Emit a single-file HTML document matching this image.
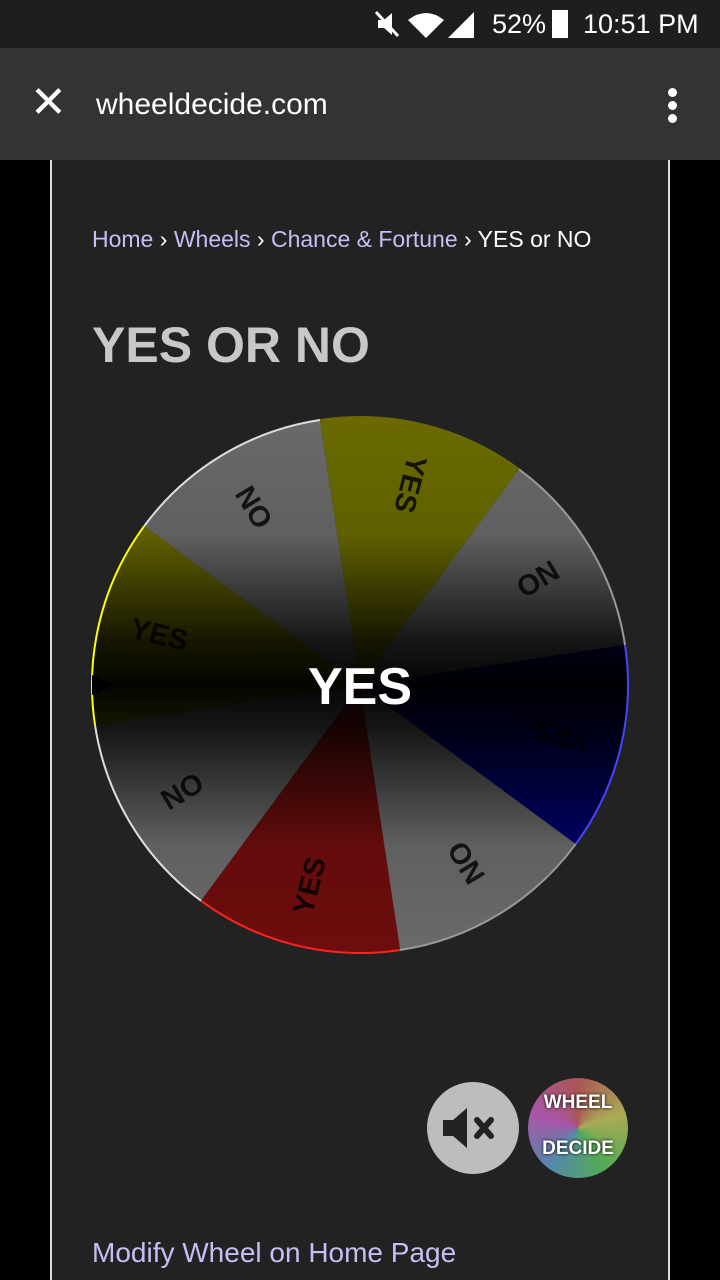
<!DOCTYPE html>
<html><head><meta charset="utf-8"><style>
html,body{margin:0;padding:0;width:720px;height:1280px;overflow:hidden;background:#000;font-family:"Liberation Sans",sans-serif}
#status{position:absolute;left:0;top:0;width:720px;height:48px;background:#1e1e1e;color:#fff;font-size:27px}
#toolbar{position:absolute;left:0;top:48px;width:720px;height:112px;background:#333;color:#fff}
#panel{position:absolute;left:50px;top:160px;width:616px;height:1120px;background:#222;border-left:2px solid #ddd;border-right:2px solid #ddd}
a,.lnk{color:#c9bdf5;text-decoration:none}
</style></head><body>
<div id="status">
  <svg style="position:absolute;left:374px;top:10px" width="104" height="30">
    <path d="M4,10 h6 l8,-7 v22 l-8,-7 h-6 z" fill="#fff"/><path d="M2,2 L24,26" stroke="#fff" stroke-width="3"/>
    <path d="M34,10 Q52,-4 70,10 L52,28 Z" fill="#fff"/>
    <polygon points="74,28 100,28 100,2" fill="#fff"/>
  </svg>
  <span style="position:absolute;left:492px;top:9px">52%</span>
  <div style="position:absolute;left:552px;top:10px;width:16px;height:28px;background:#fff"></div>
  <span style="position:absolute;left:583px;top:9px">10:51 PM</span>
</div>
<div id="toolbar">
  <span style="position:absolute;left:30px;top:30px;font-size:44px;line-height:50px">✕</span>
  <span style="position:absolute;left:96px;top:40px;font-size:30px">wheeldecide.com</span>
  <div style="position:absolute;left:668px;top:40px">
    <div style="width:9px;height:9px;border-radius:50%;background:#fff;margin-bottom:4px"></div>
    <div style="width:9px;height:9px;border-radius:50%;background:#fff;margin-bottom:4px"></div>
    <div style="width:9px;height:9px;border-radius:50%;background:#fff"></div>
  </div>
</div>
<div id="panel"></div>
<div style="position:absolute;left:92px;top:226px;font-size:23px;color:#fff">
  <span class="lnk">Home</span> › <span class="lnk">Wheels</span> › <span class="lnk">Chance &amp; Fortune</span> › YES or NO
</div>
<div style="position:absolute;left:92px;top:316px;font-size:50px;font-weight:bold;color:#c8c8c8">YES OR NO</div>

<svg id="wheel" style="position:absolute;left:0;top:0" width="720" height="1280">
  <defs>
    <clipPath id="cc"><circle cx="360" cy="685" r="268"/></clipPath>
    <linearGradient id="shade" x1="0" y1="417" x2="0" y2="953" gradientUnits="userSpaceOnUse">
      <stop offset="0" stop-color="#000" stop-opacity="0"/>
      <stop offset="0.22" stop-color="#000" stop-opacity="0.1"/>
      <stop offset="0.42" stop-color="#000" stop-opacity="0.8"/>
      <stop offset="0.5" stop-color="#000" stop-opacity="0.95"/>
      <stop offset="0.58" stop-color="#000" stop-opacity="0.8"/>
      <stop offset="0.8" stop-color="#000" stop-opacity="0.1"/>
      <stop offset="1" stop-color="#000" stop-opacity="0"/>
    </linearGradient>
  </defs>
  <g id="slices" clip-path="url(#cc)"></g>
  <rect x="90" y="415" width="540" height="540" fill="url(#shade)" clip-path="url(#cc)"/>
  <g id="rims"></g>
  <g id="labels"></g>
  <polygon points="92,675 116,685 92,695" fill="#000"/>
  <text x="360" y="704" text-anchor="middle" font-size="52" font-weight="bold" fill="#fff" font-family="Liberation Sans, sans-serif">YES</text>
</svg>

<div style="position:absolute;left:427px;top:1082px;width:92px;height:92px;border-radius:50%;background:#bdbdbd">
  <svg width="92" height="92"><polygon points="16,38 26,38 40,26 40,66 26,54 16,54" fill="#222"/><path d="M50,38 L64,54 M64,38 L50,54" stroke="#222" stroke-width="6" stroke-linecap="round"/></svg>
</div>
<div style="position:absolute;left:528px;top:1078px;width:100px;height:100px;border-radius:50%;background:conic-gradient(#a55,#aa5,#5a5,#58a,#a5a,#a55);font-weight:bold;color:#fff;font-size:19px;text-align:center;line-height:46px;text-shadow:0 0 3px #000"><div style="margin-top:2px">WHEEL</div><div>DECIDE</div></div>
<div style="position:absolute;left:92px;top:1237px;font-size:28px" class="lnk">Modify Wheel on Home Page</div>

<script>
const labels = ["YES","NO","YES","NO","YES","NO","YES","NO"];
const fills = ["#6a6a00","#6a6a6a","#00006a","#6a6a6a","#6e0d0d","#6a6a6a","#6a6a00","#6a6a6a"];
const rimColors = ["#6a6a00","#999","#4444ff","#999","#ff2222","#ddd","#ffff00","#ddd"];
const startAngle = 261.4;
const cx=360, cy=685, R=268, LR=207;
const ns="http://www.w3.org/2000/svg";
const step = 360/labels.length;
function pt(a,r){const t=a*Math.PI/180;return [cx+r*Math.cos(t), cy+r*Math.sin(t)];}
const gS=document.getElementById('slices'), gR=document.getElementById('rims'), gL=document.getElementById('labels');
labels.forEach((lab,i)=>{
  const a0=startAngle+i*step, a1=a0+step;
  const p0=pt(a0,R+4), p1=pt(a1,R+4);
  const p=document.createElementNS(ns,'path');
  p.setAttribute('d',`M${cx},${cy} L${p0[0]},${p0[1]} A${R+4},${R+4} 0 0 1 ${p1[0]},${p1[1]} Z`);
  p.setAttribute('fill',fills[i]);
  
  
  gS.appendChild(p);
  const q0=pt(a0,R), q1=pt(a1,R);
  const rim=document.createElementNS(ns,'path');
  rim.setAttribute('d',`M${q0[0]},${q0[1]} A${R},${R} 0 0 1 ${q1[0]},${q1[1]}`);
  rim.setAttribute('fill','none');rim.setAttribute('stroke',rimColors[i]);rim.setAttribute('stroke-width','2');
  
  
  gR.appendChild(rim);
  const mid=a0+step/2, lp=pt(mid,LR);
  const t=document.createElementNS(ns,'text');
  t.setAttribute('x',lp[0]);t.setAttribute('y',lp[1]);
  t.setAttribute('text-anchor','middle');t.setAttribute('dominant-baseline','central');
  t.setAttribute('font-size','29');t.setAttribute('font-weight','bold');
  t.setAttribute('font-family','Liberation Sans, sans-serif');
  t.setAttribute('fill','#000');t.setAttribute('fill-opacity','0.8');
  t.setAttribute('transform',`rotate(${mid+180} ${lp[0]} ${lp[1]})`);
  t.textContent=lab;
  
  
  gL.appendChild(t);
});
</script>
</body></html>
